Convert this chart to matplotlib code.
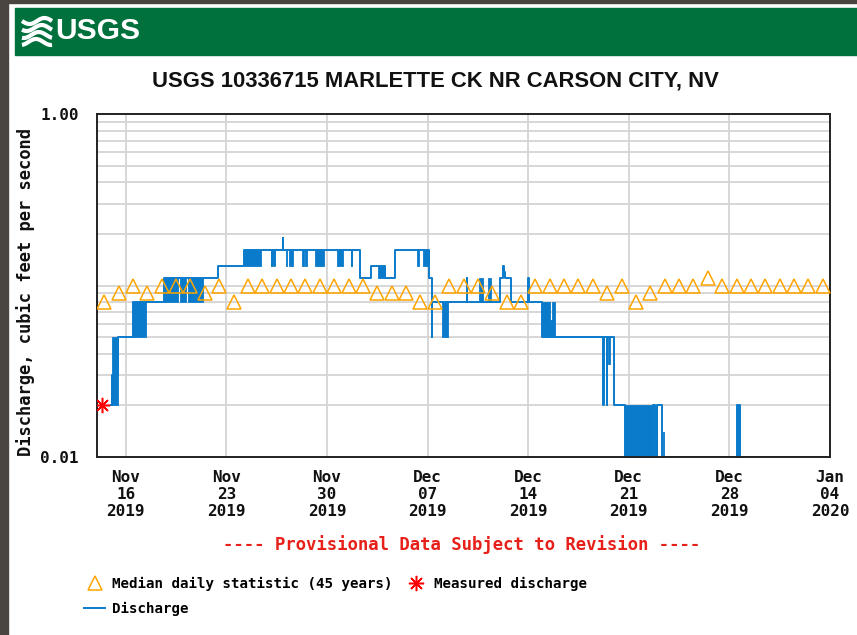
import numpy as np
import pandas as pd
import matplotlib
matplotlib.use('Agg')
import matplotlib.pyplot as plt
import matplotlib.dates as mdates
from matplotlib.ticker import FixedLocator, NullFormatter, FixedFormatter
from matplotlib.lines import Line2D
from matplotlib.patches import Rectangle

# --- data ---
start = pd.Timestamp('2019-11-14')
end = pd.Timestamp('2020-01-04')
tick_dates = pd.date_range('2019-11-16', '2020-01-04', freq='7D')

# median daily statistic (45 years), one value per day from Nov 14
median_q = [0.08, 0.09, 0.10, 0.09, 0.10, 0.10, 0.10, 0.09, 0.10, 0.08,
            0.10, 0.10, 0.10, 0.10, 0.10, 0.10, 0.10, 0.10, 0.10, 0.09,
            0.09, 0.09, 0.08, 0.08, 0.10, 0.10, 0.10, 0.09, 0.08, 0.08,
            0.10, 0.10, 0.10, 0.10, 0.10, 0.09, 0.10, 0.08, 0.09, 0.10,
            0.10, 0.10, 0.11, 0.10, 0.10, 0.10, 0.10, 0.10, 0.10, 0.10,
            0.10]

# discharge, step series (days after Nov 14 00:00, cfs held until next entry)
step_day = [0.95, 1.07, 1.44, 2.48, 4.66, 7.40, 8.40, 10.23,
            12.15, 12.18, 12.34, 12.37, 12.94, 12.97, 17.72, 17.75,
            18.30, 19.06, 20.04, 20.73, 23.13, 23.30, 23.34,
            25.72, 25.75, 28.04, 28.27, 28.30, 28.36, 28.78,
            30.01, 30.04, 30.94, 35.23, 35.26, 35.48, 35.51, 35.99,
            36.77, 38.68, 38.82, 38.98, 39.33, 44.51, 44.77, 50.5]
step_q = [0.02, 0.03, 0.05, 0.08, 0.11, 0.11, 0.13, 0.16,
          0.13, 0.16, 0.13, 0.16, 0.19, 0.16, 0.13, 0.16,
          0.11, 0.13, 0.11, 0.16, 0.11, 0.05, 0.08,
          0.11, 0.08, 0.11, 0.13, 0.12, 0.11, 0.08,
          0.11, 0.08, 0.05, 0.02, 0.05, 0.02, 0.05, 0.02,
          0.01, 0.02, 0.01, 0.02, 0.01, 0.02, 0.01, 0.01]

# periods where the gauge flips rapidly between two levels (drawn solid)
band_from = [0.95, 1.07, 2.48, 4.66, 5.80, 6.35, 10.23, 13.15, 13.36, 14.24,
             14.48, 15.17, 16.68, 19.57, 22.24, 22.70, 23.98, 26.60, 27.20,
             30.94, 31.52, 31.64, 35.57, 36.77, 38.82, 39.37, 44.51]
band_to = [1.07, 1.44, 3.39, 5.61, 6.17, 7.40, 11.39, 13.25, 13.66, 14.38,
           14.63, 15.81, 17.14, 20.04, 22.42, 23.13, 24.44, 26.88, 27.43,
           31.52, 31.64, 31.87, 35.69, 38.68, 38.98, 39.45, 44.77]
band_lo = [0.02, 0.02, 0.05, 0.08, 0.08, 0.08, 0.13, 0.13, 0.13, 0.13,
           0.13, 0.13, 0.13, 0.11, 0.13, 0.13, 0.05, 0.08, 0.08,
           0.05, 0.05, 0.05, 0.035, 0.01, 0.01, 0.01, 0.01]
band_hi = [0.03, 0.05, 0.08, 0.11, 0.11, 0.11, 0.16, 0.16, 0.16, 0.16,
           0.16, 0.16, 0.16, 0.13, 0.16, 0.16, 0.08, 0.11, 0.11,
           0.08, 0.063, 0.08, 0.05, 0.02, 0.02, 0.014, 0.02]

measured_day = [0.37]
measured_q = [0.02]

# --- figure ---
W, H = 857, 635
fig = plt.figure(figsize=(W / 100, H / 100), dpi=100)
fig.patch.set_facecolor('white')

mono = 'DejaVu Sans Mono'
narrow = ['Liberation Sans Narrow', 'Liberation Sans']
blue = '#0a7bcb'
orange = '#ffa500'

# screenshot frame and USGS banner
fig.patches.append(Rectangle((0, 0), 8 / W, 1, transform=fig.transFigure,
                             color='#4a4541', zorder=0))
fig.patches.append(Rectangle((0, 1 - 3 / H), 1, 3 / H, transform=fig.transFigure,
                             color='#4a4541', zorder=0))
fig.patches.append(Rectangle((15 / W, 1 - 55 / H), 1, 47 / H, transform=fig.transFigure,
                             color='#00703c', zorder=1))
# wave mark of the logo
wx = np.linspace(22, 52, 60)
for k, y0 in enumerate([21, 28, 35, 42]):
    wy = y0 + 3.0 * np.sin((wx - 22) / 30 * 2 * np.pi + k * 0.6)
    fig.add_artist(Line2D(wx / W, 1 - wy / H, transform=fig.transFigure,
                          color='white', lw=3.0, solid_capstyle='butt'))
logo = fig.text(55 / W, 1 - 31 / H, 'USGS', color='white', fontsize=27, fontweight='bold',
                family=narrow, ha='left', va='center')

title = fig.text(435.5 / W, 1 - 81 / H, 'USGS 10336715 MARLETTE CK NR CARSON CITY, NV',
                 fontsize=19.5, fontweight='bold', family=narrow,
                 ha='center', va='center', color='#111111')

# size the narrow texts to the widths they take in the original
fig.canvas.draw()
rend = fig.canvas.get_renderer()
for t, wpx in ((logo, 85), (title, 567)):
    w = t.get_window_extent(rend).width
    t.set_fontsize(t.get_fontsize() * wpx / w)

ax = fig.add_axes([97 / W, 1 - 457 / H, 733 / W, 343 / H])

x0 = mdates.date2num(start)
for a, b, lo, hi in zip(band_from, band_to, band_lo, band_hi):
    ax.fill_between([x0 + a, x0 + b], [lo, lo], [hi, hi], color=blue, lw=0.6,
                    edgecolor=blue, zorder=2)
ax.plot(x0 + np.array(step_day), step_q, drawstyle='steps-post', color=blue,
        lw=1.4, zorder=2)

med_dates = pd.date_range(start + pd.Timedelta(hours=12), periods=len(median_q), freq='D')
ax.plot(med_dates, median_q, ls='none', marker='^', ms=10, mfc='none', mec=orange,
        mew=1.1, zorder=3)
ax.plot(x0 + np.array(measured_day), measured_q, ls='none', marker=(8, 2, 0), ms=11,
        color='red', mew=1.1, zorder=4)

ax.set_yscale('log')
ax.set_ylim(0.01, 1.0)
ax.set_xlim(start, end)

ax.yaxis.set_major_locator(FixedLocator([0.01, 1.0]))
ax.yaxis.set_major_formatter(FixedFormatter(['0.01', '1.00']))
ax.yaxis.set_minor_locator(FixedLocator([m * d for d in (0.01, 0.1) for m in range(2, 10)] + [0.1]))
ax.yaxis.set_minor_formatter(NullFormatter())

ax.set_xticks(tick_dates)
ax.xaxis.set_major_formatter(mdates.DateFormatter('%b\n%d\n%Y'))

ax.grid(True, which='both', color='#d4d4d4', lw=1.3)
ax.set_axisbelow(True)
ax.tick_params(which='both', length=0)
ax.tick_params(axis='y', pad=13)
ax.tick_params(axis='x', pad=9)
for lab in ax.get_xticklabels() + ax.get_yticklabels():
    lab.set_family(mono)
    lab.set_fontweight('bold')
    lab.set_fontsize(11.5)
    lab.set_color('#111111')

for s in ax.spines.values():
    s.set_color('#222222')
    s.set_linewidth(1.4)

ax.set_ylabel('Discharge, cubic feet per second', family=mono, fontweight='bold',
              fontsize=12.3, color='#111111')
ax.yaxis.label.set_va('center')
ax.yaxis.set_label_coords(-0.098, 0.482)

fig.text(461.5 / W, 1 - 545 / H, '---- Provisional Data Subject to Revision ----',
         color='#e8201a', family=mono, fontweight='bold', fontsize=12.4,
         ha='center', va='center')

handles = [Line2D([], [], ls='none', marker='^', ms=10, mfc='none', mec=orange, mew=1.1),
           Line2D([], [], color=blue, lw=1.4),
           Line2D([], [], ls='none', marker=(8, 2, 0), ms=11, color='red', mew=1.1)]
labels = ['Median daily statistic (45 years)', 'Discharge', 'Measured discharge']
fig.legend(handles, labels, loc='upper left', bbox_to_anchor=(84 / W, 1 - 577 / H),
           ncol=2, frameon=False, borderpad=0, borderaxespad=0,
           handlelength=1.5, handletextpad=0.5, columnspacing=0.9, labelspacing=0.75,
           prop={'family': mono, 'weight': 'bold', 'size': 10.2})

fig.savefig('out.png', dpi=100)
